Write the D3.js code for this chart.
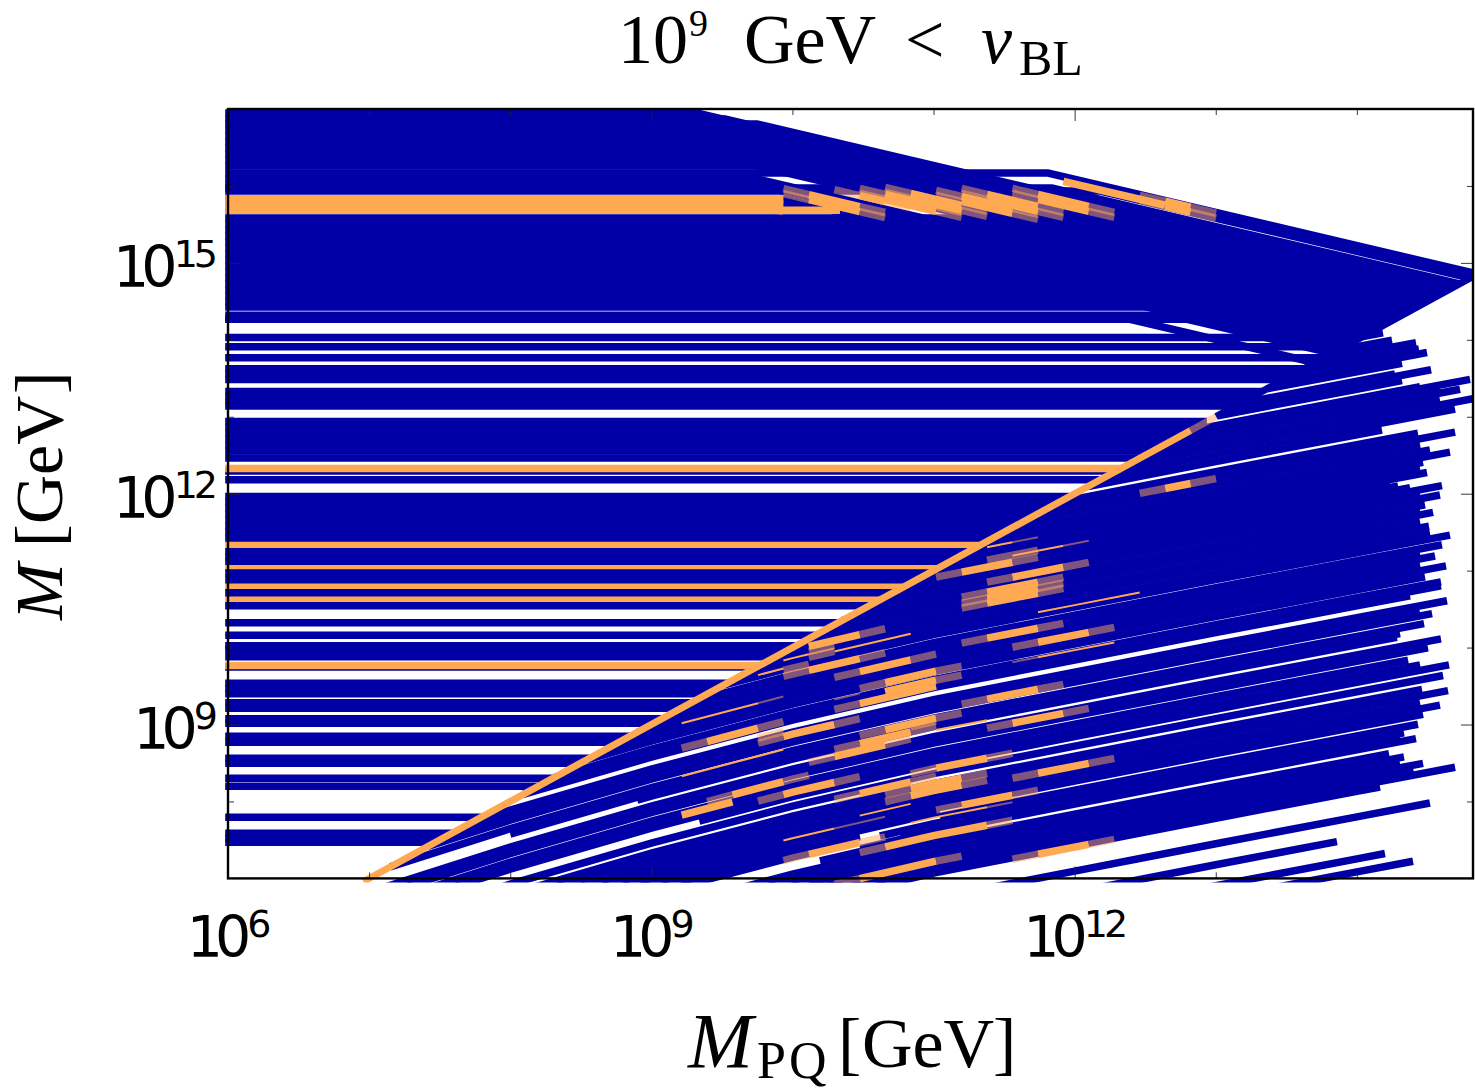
<!DOCTYPE html>
<html>
<head>
<meta charset="utf-8">
<script src="https://cdnjs.cloudflare.com/ajax/libs/d3/7.8.5/d3.min.js"></script>
<style>
  html, body { margin: 0; background: #fff; }
  text { fill: #000; }
  .tick-label { font-family: "DejaVu Sans", sans-serif; }
  .cm { font-family: "Liberation Serif", serif; }
</style>
</head>
<body>
<svg id="svg1"></svg>
<script>
// All numbers are log10 of GeV

// rows at high M: flat up to a break, then falling until they meet M = MPQ
const upperLevels = [16.948, 16.870, 16.805, 16.727, 16.649, 16.571, 16.493, 16.415, 16.337, 16.259, 16.168, 16.090, 16.012, 15.973, 15.934, 15.833, 15.758, 15.684,
  15.583, 15.505, 15.427, 15.349, 15.271, 15.193, 15.115, 15.037, 14.959, 14.881, 14.803, 14.725, 14.647, 14.569, 14.491, 14.426, 14.319, 14.267, 14.267];
const upperBreaks = [9.324, 9.522, 9.749, 9.749, 9.749, 9.749, 9.749, 9.749, 9.749, 9.749, 11.811, 9.749, 9.749, 11.839, 12.18, 9.936, 10.1, 10.337,
  12.18, 12.18, 12.18, 12.18, 12.18, 12.18, 12.18, 12.18, 12.18, 12.18, 12.18, 12.18, 12.18, 12.18, 12.392, 12.534, 12.676, 12.392, 12.874];

// flat rows that run to M = MPQ
const flatLevels = [14.029, 13.91, 13.767, 13.623, 13.555, 13.483, 13.327, 13.256, 13.191, 13.139,
  12.937, 12.866, 12.788, 12.71, 12.632, 12.554, 12.463, 12.18,
  11.962, 11.891, 11.813, 11.735, 11.657, 11.579, 11.501, 11.423, 11.247, 11.182, 11.121, 10.968, 10.883, 10.712, 10.545,
  10.322, 10.159, 10.025, 9.977, 9.881, 9.538, 9.466, 9.401, 9.284, 9.21, 9.076, 9.015, 8.849, 8.768, 8.563, 8.498, 8.303, 8.199, 7.796, 7.588, 7.523, 7.471];
const flatBeneath = [12.294, 9.746];

const orangeLevels = [12.329, 11.336, 11.043, 10.795, 10.636, 9.768];
const orangeBand = [15.833, 15.758, 15.684];
const orangeBandEnds = [9.936, 9.936, 10.337];

// rows below M = MPQ: value at MPQ = 1e12 and where the row stops
const lowerAt12 = [13.321, 13.204, 13.113, 13.022, 12.957, 12.879, 12.756, 12.723, 12.652, 12.528, 12.502, 12.424, 12.398, 12.307, 12.242, 12.151, 12.06,
  11.93, 11.852, 11.774, 11.683, 11.605, 11.54, 11.462, 11.397, 11.345, 11.293, 11.241, 11.189, 11.137, 11.072, 10.981, 10.916, 10.864, 10.773, 10.695, 10.604, 10.526, 10.422, 10.357, 10.292, 10.214, 10.136, 10.045,
  9.941, 9.889, 9.837, 9.681, 9.59, 9.551, 9.44, 9.369, 9.33, 9.2, 9.115, 9.005, 8.914, 8.842, 8.719, 8.589, 8.511, 8.42, 8.342, 8.264, 8.147, 8.069, 8.017, 7.965, 7.835, 7.757, 7.679, 7.627, 7.575, 7.497, 7.425, 7.094, 6.821, 6.548, 6.379,
  8.199, 8.121, 8.056, 7.926];
const lowerEnd = [14.185, 14.249, 14.419, 14.44, 14.497, 14.32, 14.27, 14.526, 14.32, 14.448, 14.802, 14.589, 14.731, 14.589, 14.823, 14.696, 14.178,
  14.433, 14.696, 14.448, 14.518, 14.66, 14.469, 14.448, 14.497, 14.235, 14.292, 14.377, 14.603, 14.448, 14.589, 14.483, 14.448, 14.54, 14.448, 14.511, 14.518, 14.66, 14.603, 14.448, 14.554, 14.448, 14.632, 14.483,
  14.596, 14.596, 14.377, 14.639, 14.448, 14.533, 14.476, 14.306, 14.284, 14.596, 14.504, 14.363, 14.448, 14.653, 14.611, 14.462, 14.646, 14.448, 14.589, 14.469, 14.433, 14.334, 14.306, 14.419, 14.228, 14.334, 14.306, 14.469, 14.4, 14.696, 14.164, 14.518, 13.859, 14.199, 14.398,
  11.046, 10.479, 10.124, 10.762];
// rows that begin late, which opens the white wedges at lower left
const lateRows = [9.369, 9.33, 8.842, 8.147, 8.069, 8.017, 7.965, 7.926];
const lateFrom = [8.0, 8.9, 9.34, 11.046, 10.62, 10.762, 10.479, 10.195];

// the bend shared by the lower rows
const bendX = [5, 6, 7, 8, 9, 10, 11, 12, 13, 14, 15];
const bendRise = [-3.6, -2.99, -2.378, -1.794, -1.261, -0.78, -0.357, 0, 0.357, 0.706, 1.053];
const fallRate = 0.431;

// MPQ scan cells, first edge is cell -1
const cellEdges = [9.215, 9.395, 9.575, 9.756, 9.936, 10.116, 10.297, 10.477, 10.657, 10.838, 11.018, 11.199, 11.379, 11.559, 11.74, 11.92, 12.1, 12.281, 12.461, 12.641, 12.822, 13.002];

// [value at 1e12, faded from, solid from, solid to, faded to] in cells
const lowerMarks = [
  [11.267, 9, 10, 12, 13], [11.358, 11, 12, 12, 13], [11.072, 11, 12, 14, 15],
  [10.942, 10, 11, 13, 14], [10.864, 10, 11, 13, 14], [10.799, 10, 11, 13, 14],
  [10.344, 10, 11, 13, 14], [10.162, 12, 13, 15, 16], [10.747, 4, 4, 6, 7],
  [10.682, 4, 5, 5, 5], [10.604, 4, 5, 5, 5], [10.435, 3, 4, 6, 7], [10.513, 3, 4, 4, 4],
  [10.266, 5, 6, 8, 9], [10.045, 6, 7, 9, 10], [9.85, 5, 6, 9, 9], [9.928, 7, 7, 9, 10],
  [9.551, 10, 11, 13, 14], [9.434, 6, 7, 9, 10], [9.655, 2, 3, 5, 6], [9.72, 2, 3, 3, 3],
  [9.85, -1, 0, 2, 3], [9.33, 5, 6, 8, 9], [9.395, 8, 9, 9, 9], [9.239, 4, 5, 7, 8],
  [9.174, 11, 12, 14, 15], [8.784, 8, 9, 11, 12], [8.68, 8, 9, 9, 9], [8.459, 12, 13, 15, 16],
  [8.589, 7, 8, 10, 11], [8.498, 7, 8, 10, 11], [8.238, 9, 10, 12, 13], [8.901, 2, 3, 5, 6],
  [9.07, 0, 1, 3, 4], [8.979, -1, -1, 1, 1], [8.68, 5, 6, 8, 8], [7.913, 6, 7, 11, 12],
  [8.043, 3, 4, 6, 7], [7.406, 12, 13, 15, 16], [7.575, 5, 6, 9, 10], [11.839, 17, 18, 19, 20]
];
const lowerSlivers = [
  [11.352, 12, 12, 14, 15], [11.527, 11, 11, 12, 13], [10.552, 13, 13, 17, 17], [9.967, 12, 13, 16, 16],
  [10.643, 3, 3, 4, 5], [10.604, 5, 5, 8, 8], [10.539, 2, 2, 3, 3], [9.98, 5, 6, 6, 6],
  [10.175, -1, -1, 2, 3], [9.486, -1, -1, 3, 3], [8.394, 6, 6, 8, 8], [8.147, 8, 8, 11, 12],
  [8.303, 3, 3, 5, 7], [9.278, 9, 9, 11, 11]
];
// same, on the falling rows
const fallMarks = [
  [15.076, 3, 4, 6, 7], [15.011, 3, 4, 6, 7], [15.31, 6, 7, 9, 10], [15.245, 6, 7, 9, 10],
  [15.401, 7, 8, 10, 11], [15.336, 7, 8, 10, 11], [15.518, 9, 10, 12, 13], [15.453, 9, 10, 12, 13],
  [15.622, 10, 11, 13, 14], [15.557, 10, 11, 13, 14], [15.778, 12, 13, 15, 16], [15.713, 12, 13, 15, 16],
  [15.219, 5, 6, 7, 8], [16.077, 17, 18, 19, 20], [16.012, 17, 18, 19, 20],
  [16.025, 14, 14, 18, 18], [14.777, 2, 3, 3, 3]
];

// M = MPQ line
const diagonalSolid = [6.96, 12.822];
const diagonalFaded = [12.822, 13.002];
const diagonalBlue = [13.002, 14.823];

const xDecades = [6, 7, 8, 9, 10, 11, 12, 13, 14];
const xLabelled = [6, 9, 12];
const yDecades = [8, 9, 10, 11, 12, 13, 14, 15, 16];
const yLabelled = [9, 12, 15];
const rowStart = 5.98;

const blue = "#0000a6", orange = "#ffa953";
const rowWidth = 7.5, sliverWidth = 2, diagWidth = 7;

const width = 1475, height = 1089;
const margin = { left: 228, right: 1473, top: 109, bottom: 878.4 };

const svg = d3.select("#svg1").attr("width", width).attr("height", height)
  .style("display", "block");

const x = d3.scaleLog().domain([1e6, Math.pow(10, 14.823)]).range([margin.left, margin.right]);
const y = d3.scaleLog().domain([1e7, 1e17]).range([margin.bottom, margin.top]);
const bend = d3.scaleLinear().domain(bendX).range(bendRise);

const line = d3.line()
  .x(d => x(Math.pow(10, d[0])))
  .y(d => y(Math.pow(10, d[1])));

svg.append("clipPath").attr("id", "plot-clip").append("rect")
  .attr("x", margin.left - 3).attr("y", margin.top - 4)
  .attr("width", margin.right - margin.left + 3).attr("height", margin.bottom - margin.top + 8);

const plot = svg.append("g").attr("clip-path", "url(#plot-clip)").attr("fill", "none");

function drawRow(points, color, w, opacity) {
  plot.append("path").attr("d", line(points))
    .attr("stroke", color).attr("stroke-width", w)
    .attr("stroke-opacity", opacity === undefined ? 1 : opacity);
}

// lower rows follow the shared bend
function lowerPoints(at12, from, to) {
  const inner = bendX.filter(b => b > from && b < to);
  return [from, ...inner, to].map(v => [v, at12 + bend(v)]);
}

// where a lower row leaves M = MPQ
function lowerStart(at12) {
  let lo = 5, hi = 15;
  for (let i = 0; i < 40; i++) {
    const mid = (lo + hi) / 2;
    if (at12 + bend(mid) > mid) lo = mid; else hi = mid;
  }
  const late = lateRows.indexOf(at12);
  return late < 0 ? lo : Math.max(lo, lateFrom[late]);
}

function fallPoints(at12, from, to) {
  return [from, to].map(v => [v, at12 - fallRate * (v - 12)]);
}

const cell = k => cellEdges[k + 1];

function drawMarks(rows, pointsFn, w) {
  rows.forEach(r => {
    const [at12, a, b, c, d] = r;
    if (b > a) drawRow(pointsFn(at12, cell(a), cell(b)), orange, w, 0.5);
    if (d > c) drawRow(pointsFn(at12, cell(c), cell(d)), orange, w, 0.5);
    if (c > b) drawRow(pointsFn(at12, cell(b), cell(c)), orange, w);
  });
}

// Lower rows
lowerAt12.forEach((at12, i) => {
  const from = lowerStart(at12);
  if (from < lowerEnd[i]) drawRow(lowerPoints(at12, from, lowerEnd[i]), blue, rowWidth);
});

// Flat rows, orange goes in first so the blue trims it
flatBeneath.forEach(m => drawRow([[rowStart, m], [m, m]], blue, rowWidth));
orangeLevels.forEach(m => drawRow([[rowStart, m], [m, m]], orange, rowWidth));
flatLevels.forEach(m => drawRow([[rowStart, m], [m, m]], blue, rowWidth));

// Upper rows
upperLevels.forEach((m, i) => {
  const b = upperBreaks[i];
  const end = (m + fallRate * b) / (1 + fallRate);
  drawRow([[rowStart, m], [b, m], [end, m - fallRate * (end - b)]], blue, rowWidth);
});
orangeBand.forEach((m, i) => drawRow([[rowStart, m], [orangeBandEnds[i], m]], orange, rowWidth));

// Orange and faded cells
drawMarks(lowerSlivers, lowerPoints, sliverWidth);
drawMarks(lowerMarks, lowerPoints, rowWidth);
drawMarks(fallMarks, fallPoints, rowWidth);

// M = MPQ
drawRow(diagonalBlue.map(v => [v, v]), blue, diagWidth);
drawRow(diagonalSolid.map(v => [v, v]), orange, diagWidth);
drawRow(diagonalFaded.map(v => [v, v]), orange, diagWidth, 0.5);

// Axes, ticks point inside on all four sides
const tickStyle = g => {
  g.selectAll(".domain").remove();
  g.selectAll(".tick line").attr("stroke", "#222").attr("stroke-width", 0.9);
  g.selectAll(".tick text").remove();
};
const pow = v => Math.pow(10, v);
const xMinor = xDecades.filter(d => !xLabelled.includes(d)).map(pow);
const yMinor = yDecades.filter(d => !yLabelled.includes(d)).map(pow);

[[xLabelled.map(pow), 12], [xMinor, 6]].forEach(([vals, len]) => {
  svg.append("g").attr("transform", `translate(0,${margin.bottom})`)
    .call(d3.axisBottom(x).tickValues(vals).tickSize(-len)).call(tickStyle);
  svg.append("g").attr("transform", `translate(0,${margin.top})`)
    .call(d3.axisTop(x).tickValues(vals).tickSize(-len)).call(tickStyle);
});
[[yLabelled.map(pow), 12], [yMinor, 6]].forEach(([vals, len]) => {
  svg.append("g").attr("transform", `translate(${margin.left},0)`)
    .call(d3.axisLeft(y).tickValues(vals).tickSize(-len)).call(tickStyle);
  svg.append("g").attr("transform", `translate(${margin.right},0)`)
    .call(d3.axisRight(y).tickValues(vals).tickSize(-len)).call(tickStyle);
});

svg.append("rect").attr("x", margin.left).attr("y", margin.top)
  .attr("width", margin.right - margin.left).attr("height", margin.bottom - margin.top)
  .attr("fill", "none").attr("stroke", "#000").attr("stroke-width", 2.4);

// Tick labels
function powerLabel(px, py, exp, anchor) {
  const t = svg.append("text").attr("class", "tick-label")
    .attr("x", px).attr("y", py).attr("text-anchor", anchor);
  t.append("tspan").attr("font-size", 57).attr("letter-spacing", -8).text("10");
  t.append("tspan").attr("font-size", 38).attr("letter-spacing", -4).attr("dy", -20).attr("dx", 4).text(exp);
}
xLabelled.forEach(d => powerLabel(x(pow(d)) - 1, 957, d, "middle"));
yLabelled.forEach(d => powerLabel(214, y(pow(d)) + 24, d, "end"));

// Title
const title = svg.append("text").attr("class", "cm").attr("y", 63).attr("font-size", 70);
title.append("tspan").attr("x", 618).text("10");
title.append("tspan").attr("x", 689).attr("y", 36).attr("font-size", 38).text("9");
title.append("tspan").attr("x", 744).attr("y", 63).text("GeV");
title.append("tspan").attr("x", 905).text("<");
title.append("tspan").attr("x", 981).attr("font-style", "italic").text("v");
title.append("tspan").attr("x", 1019).attr("y", 75).attr("font-size", 50).text("BL");

// X label
const xLabel = svg.append("text").attr("class", "cm").attr("y", 1067).attr("font-size", 78);
xLabel.append("tspan").attr("x", 688).attr("font-style", "italic").text("M");
xLabel.append("tspan").attr("x", 757).attr("y", 1078).attr("font-size", 52).attr("letter-spacing", 3).text("PQ");
xLabel.append("tspan").attr("x", 838).attr("y", 1067).attr("font-size", 70).text("[");
xLabel.append("tspan").attr("x", 862).attr("font-size", 70).text("GeV");
xLabel.append("tspan").attr("x", 993).attr("font-size", 70).text("]");

// Y label
const yLabel = svg.append("text").attr("class", "cm")
  .attr("transform", "translate(62,620) rotate(-90)").attr("font-size", 68);
yLabel.append("tspan").attr("x", 0).attr("font-style", "italic").attr("letter-spacing", 6).text("M");
yLabel.append("tspan").attr("x", 73).text("[");
yLabel.append("tspan").attr("x", 96).text("GeV");
yLabel.append("tspan").attr("x", 226).text("]");
</script>
</body>
</html>
